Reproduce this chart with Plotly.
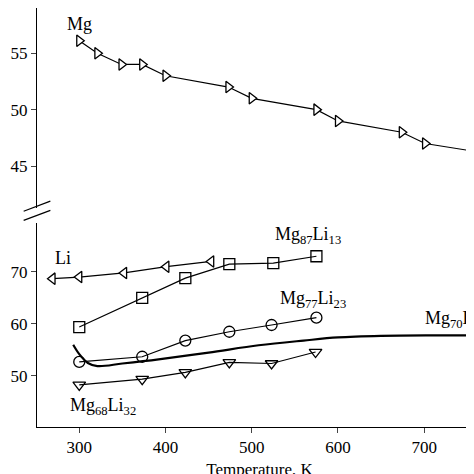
import plotly.graph_objects as go
from plotly.subplots import make_subplots

# Mg (top panel)
mg_t = [300, 321, 349, 373, 400, 473, 500, 575, 600, 674, 701, 767]
mg_v = [56.1, 55.0, 54.0, 54.0, 53.0, 52.0, 51.0, 50.0, 49.0, 48.0, 47.0, 46.2]
mg_mark = [True] * 11 + [False]

li_t = [269, 300, 352, 401, 453]
li_v = [68.7, 69.0, 69.8, 71.0, 72.0]

sq_t = [300, 373, 423, 474, 525, 575]
sq_v = [59.4, 65.0, 68.8, 71.5, 71.7, 73.0]

ci_t = [300, 373, 423, 474, 523, 575]
ci_v = [52.7, 53.7, 56.8, 58.5, 59.8, 61.2]

tr_t = [300, 373, 423, 474, 523, 574]
tr_v = [48.3, 49.4, 50.7, 52.6, 52.4, 54.6]

ln_t = [293, 300, 310, 321, 350, 392, 450, 508, 560, 600, 650, 705, 767]
ln_v = [56.0, 54.2, 52.5, 51.9, 52.4, 53.2, 54.5, 55.9, 56.8, 57.4, 57.7, 57.8, 57.8]

FONT = "Liberation Serif, Times New Roman, serif"
fig = make_subplots(rows=2, cols=1, shared_xaxes=True, vertical_spacing=0.036,
                    row_heights=[0.477, 0.487])

line = dict(color="black", width=1.2)
fig.add_trace(go.Scatter(x=mg_t, y=mg_v, mode="lines+markers", line=line,
                         marker=dict(symbol="triangle-right", size=10, color="white",
                                     line=dict(color="black", width=1.3),
                                     opacity=[1 if m else 0 for m in mg_mark])), 1, 1)
fig.add_trace(go.Scatter(x=li_t, y=li_v, mode="lines+markers", line=line,
                         marker=dict(symbol="triangle-left", size=10, color="white",
                                     line=dict(color="black", width=1.3))), 2, 1)
fig.add_trace(go.Scatter(x=sq_t, y=sq_v, mode="lines+markers", line=line,
                         marker=dict(symbol="square-open", size=11, color="black",
                                     line=dict(width=1.3))), 2, 1)
fig.add_trace(go.Scatter(x=ci_t, y=ci_v, mode="lines+markers", line=line,
                         marker=dict(symbol="circle-open", size=11, color="black",
                                     line=dict(width=1.3))), 2, 1)
fig.add_trace(go.Scatter(x=tr_t, y=tr_v, mode="lines+markers", line=line,
                         marker=dict(symbol="triangle-down-open", size=11, color="black",
                                     line=dict(width=1.3))), 2, 1)
fig.add_trace(go.Scatter(x=ln_t, y=ln_v, mode="lines", line=dict(color="black", width=2.2,
                                                                  shape="spline")), 2, 1)

# legend samples (clipped at right edge like the reference)
leg_y = [58.1, 56.3, 54.4, 52.4, 50.4, 48.5]
leg_sym = ["triangle-right", "triangle-left", "square-open", "circle-open",
           "triangle-down-open", None]
for yy, sym in zip(leg_y, leg_sym):
    if sym is None:
        fig.add_trace(go.Scatter(x=[751, 770], y=[yy, yy], mode="lines",
                                 line=dict(color="black", width=2.2), cliponaxis=False), 1, 1)
    else:
        fig.add_trace(go.Scatter(x=[751, 770], y=[yy, yy], mode="lines+markers", line=line,
                                 marker=dict(symbol=sym, size=[0, 10],
                                             color="white" if "open" not in sym else "black",
                                             line=dict(color="black", width=1.3)),
                                 cliponaxis=False), 1, 1)

tick = dict(family=FONT, size=17, color="black")
fig.update_xaxes(range=[251, 767], showgrid=False, zeroline=False, row=1, col=1,
                 showticklabels=False, ticks="")
fig.update_xaxes(range=[251, 767], showgrid=False, zeroline=False, row=2, col=1,
                 showline=True, linecolor="black", ticks="outside", ticklen=5,
                 tickvals=[300, 400, 500, 600, 700], tickfont=tick, automargin=False,
                 title=dict(text="Temperature, K", font=tick, standoff=6))
fig.update_yaxes(range=[41.3, 59], showgrid=False, zeroline=False, showline=True,
                 linecolor="black", ticks="outside", ticklen=5, tickvals=[45, 50, 55],
                 tickfont=tick, automargin=False, row=1, col=1)
fig.update_yaxes(range=[40.2, 79.4], showgrid=False, zeroline=False, showline=True,
                 linecolor="black", ticks="outside", ticklen=5, tickvals=[50, 60, 70],
                 tickfont=tick, automargin=False, row=2, col=1)

lab = dict(family=FONT, size=18, color="black")
for x, y, t, xr, yr in [(300, 57.6, "Mg", "x", "y"),
                        (281, 72.6, "Li", "x2", "y2"),
                        (565, 77.0, "Mg<sub>87</sub>Li<sub>13</sub>", "x2", "y2"),
                        (571, 64.6, "Mg<sub>77</sub>Li<sub>23</sub>", "x2", "y2"),
                        (328, 44.2, "Mg<sub>68</sub>Li<sub>32</sub>", "x2", "y2")]:
    fig.add_annotation(x=x, y=y, xref=xr, yref=yr, text=t, showarrow=False, font=lab)
fig.add_annotation(x=699, y=60.8, xref="x2", yref="y2", xanchor="left",
                   text="Mg<sub>70</sub>Li<sub>30</sub>", showarrow=False, font=lab)

# axis break marks
for yp in [0.505, 0.527]:
    fig.add_shape(type="line", xref="paper", yref="paper", x0=-0.03, x1=0.03,
                  y0=yp - 0.012, y1=yp + 0.012, line=dict(color="black", width=1.2))

fig.update_layout(width=474, height=474, showlegend=False,
                  margin=dict(l=29, r=0, t=0, b=55),
                  plot_bgcolor="white", paper_bgcolor="white")
fig.write_html("out.html")
